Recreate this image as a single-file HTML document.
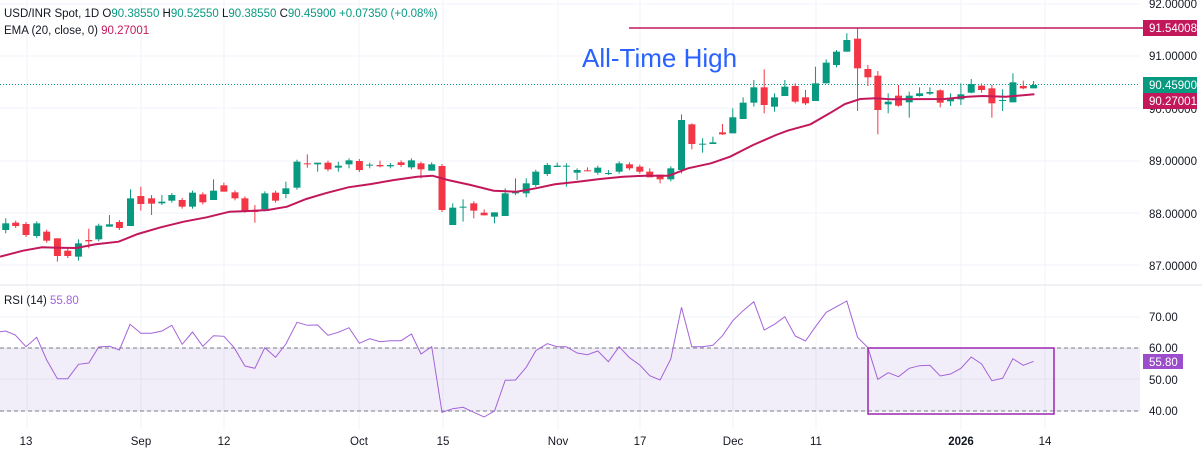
<!DOCTYPE html>
<html><head><meta charset="utf-8"><style>
html,body{margin:0;padding:0;background:#fff;}
svg{display:block;font-family:"Liberation Sans",sans-serif;}
</style></head><body>
<svg id="s" width="1202" height="452" xmlns="http://www.w3.org/2000/svg">
<rect width="1202" height="452" fill="#fff"/>
<g id="grid" stroke="#f0f3fa" stroke-width="1"></g>
<rect x="0" y="348" width="1140" height="63" fill="#7e57c2" fill-opacity="0.1"/>
<line x1="0" y1="348" x2="1140" y2="348" stroke="#787b86" stroke-dasharray="4,3"/>
<line x1="0" y1="411" x2="1140" y2="411" stroke="#787b86" stroke-dasharray="4,3"/>
<line x1="0" y1="285" x2="1202" y2="285" stroke="#e0e3eb"/>
<line x1="0" y1="84.5" x2="1140" y2="84.5" stroke="#089981" stroke-dasharray="1,2"/>
<g id="candles"></g>
<polyline id="ema" fill="none" stroke="#c2185b" stroke-width="2"/>
<line x1="629" y1="28" x2="1143" y2="28" stroke="#c2185b" stroke-width="1.5"/>
<polyline id="rsi" fill="none" stroke="#a463d8" stroke-width="1"/>
<rect x="868" y="348" width="186" height="66" fill="none" stroke="#9c27b0" stroke-width="1.5"/>
<text x="582" y="67" font-size="26" fill="#2962ff">All-Time High</text>
<g font-size="11.5" fill="#131722">
<text x="4" y="17">USD/INR Spot, 1D  O<tspan fill="#089981">90.38550</tspan> H<tspan fill="#089981">90.52550</tspan> L<tspan fill="#089981">90.38550</tspan> C<tspan fill="#089981">90.45900</tspan><tspan fill="#089981"> +0.07350 (+0.08%)</tspan></text>
<text x="4" y="34">EMA (20, close, 0) <tspan fill="#c2185b">90.27001</tspan></text>
<text x="4" y="304">RSI (14) <tspan fill="#a463d8">55.80</tspan></text>
</g>
<g font-size="11.5" fill="#131722">
<text x="1149" y="8">92.00000</text>
<text x="1149" y="60">91.00000</text>
<text x="1149" y="113">90.00000</text>
<text x="1149" y="165">89.00000</text>
<text x="1149" y="218">88.00000</text>
<text x="1149" y="270">87.00000</text>
<text x="1149" y="321">70.00</text>
<text x="1149" y="352">60.00</text>
<text x="1149" y="384">50.00</text>
<text x="1149" y="415">40.00</text>
</g>
<rect x="1143" y="20" width="54" height="16" fill="#c2185b"/>
<text x="1149" y="32" font-size="11.5" fill="#fff">91.54008</text>
<rect x="1143" y="77" width="54" height="16" fill="#089981"/>
<text x="1149" y="89" font-size="11.5" fill="#fff">90.45900</text>
<rect x="1143" y="93" width="54" height="16" fill="#c2185b"/>
<text x="1149" y="105" font-size="11.5" fill="#fff">90.27001</text>
<rect x="1143" y="354" width="40" height="15" fill="#9c4dcc"/>
<text x="1149" y="366" font-size="11.5" fill="#fff">55.80</text>
<g font-size="11.5" fill="#131722" text-anchor="middle">
<text x="26" y="445">13</text><text x="141" y="445">Sep</text><text x="224" y="445">12</text>
<text x="359" y="445">Oct</text><text x="443" y="445">15</text><text x="558" y="445">Nov</text>
<text x="640" y="445">17</text><text x="733" y="445">Dec</text><text x="816" y="445">11</text>
<text x="961" y="445" font-weight="bold">2026</text><text x="1045" y="445">14</text>
</g>
</svg>
<script>
var K=2.613;
var ns="http://www.w3.org/2000/svg";
function el(t,a,p){var e=document.createElementNS(ns,t);for(var k in a)e.setAttribute(k,a[k]);p.appendChild(e);return e;}
var g=document.getElementById('grid');
[27,141,224,359,443,558,640,733,816,961,1045].forEach(function(x){el('line',{x1:x,y1:0,x2:x,y2:430},g);});
[4,56,108,161,213,265,317,348,379,411].forEach(function(y){el('line',{x1:0,y1:y,x2:1140,y2:y},g);});
var C1=[[15,'g',670,690,655,700],[41,'r',668,678],[68,'r',672,705],[96,'g',670,708],[122,'r',695,722],[150,'r',715,768,715,785],[177,'r',752,768],[205,'g',730,770,718,782],[232,'r',720,724,686,745],[258,'g',677,718],[286,'g',673,680,645,680],[312,'r',666,684],[341,'g',595,678,568,678],[368,'r',588,612,560,632],[396,'r',595,611,585,645],[423,'g',605,610,585,615],[449,'g',585,602],[476,'r',600,620],[503,'g',578,620],[530,'r',583,607],[558,'g',572,600,538,600],[585,'r',556,575,548,575],[614,'r',577,595],[640,'r',595,632],[666,'r',632,636,615,668],[692,'g',580,628],[720,'r',578,602],[747,'g',565,582,545,595],[776,'g',485,563],[803,'r',490,493,463,503],[830,'g',488,493,488,515],[857,'r',488,508],[884,'g',497,503,485,515],[912,'g',481,493,475,505],[939,'r',483,510],[966,'g',494,497,488,505],[993,'r',495,499,482,502],[1020,'g',495,499],[1048,'r',487,495],[1075,'g',481,502],[1100,'r',490,508,485,535],[1128,'g',493,512,487,512],[1155,'r',498,630],[1183,'g',623,675,610,675],[1210,'g',620,623,598,665],[1238,'r',610,632,604,655],[1265,'r',638,646,628,646],[1292,'g',637,650,637,670],[1320,'g',580,648,565,648],[1347,'g',577,580,535,585],[1375,'g',550,580,535,592],[1400,'g',515,555],[1430,'g',495,522],[1456,'g',497,501,488,501],[1480,'g',497,500,490,560],[1508,'g',510,518,505,540],[1535,'r',511,514,502,514],[1562,'g',503,518]];
var C2=[[22,'g',519,522,510,525],[50,'g',490,515],[77,'r',493,505],[104,'r',500,515],[130,'r',515,532,505,532],[157,'r',524,538,524,550],[185,'g',505,538],[213,'g',360,510,343,520],[240,'r',373,432,370,448],[268,'g',431,434,415,458],[295,'g',427,432,410,432],[320,'r',397,403,372,405],[347,'g',352,400,325,400],[374,'g',308,357,292,357],[402,'g',262,308,240,320],[429,'r',262,315,208,340],[456,'g',292,320,280,335],[483,'g',260,288,240,288],[510,'r',258,305,250,310],[537,'r',292,310,270,315],[563,'g',250,303,200,303],[591,'g',188,250,178,250],[618,'g',155,195,150,202],[645,'g',120,155,100,155],[673,'r',116,205,85,333],[700,'r',207,232,195,258],[726,'r',227,330,213,403],[753,'g',305,313,280,340],[780,'r',287,317,255,320],[808,'g',287,307,275,353],[835,'g',280,288,262,290],[862,'g',276,281,262,285],[889,'r',271,308,268,322],[916,'g',297,304,280,318],[943,'g',283,298,250,315],[970,'g',252,278,237,280],[997,'r',257,270,250,278],[1024,'r',265,310,255,353],[1052,'g',300,303,268,333],[1079,'g',247,307,220,307],[1106,'r',258,265,242,268],[1133,'g',255,265,243,265]];
var cg=document.getElementById('candles');
function draw(arr,off){arr.forEach(function(c){var x=off+c[0]/K;var col=c[1]=='g'?'#089981':'#f23645';
var t=c[2]/3,b=c[3]/3;var wt=(c[4]!==undefined?c[4]:c[2]-6)/3,wb=(c[5]!==undefined?c[5]:c[3]+6)/3;
el('line',{x1:x,y1:wt,x2:x,y2:wb,stroke:col,'stroke-width':1},cg);
el('rect',{x:x-3.5,y:t,width:7,height:Math.max(1,b-t),fill:col},cg);});}
draw(C1,0);draw(C2,600);
function pts(a,off,oy){return a.map(function(p){return (off+p[0]/K).toFixed(1)+','+(oy+p[1]/3).toFixed(1);}).join(' ');}
var E1=[[0,770],[60,752],[110,742],[150,743],[200,744],[250,733],[310,725],[360,702],[420,682],[480,665],[540,652],[600,635],[650,633],[700,630],[750,620],[800,597],[850,580],[910,562],[970,552],[1030,540],[1090,530],[1130,527],[1170,540],[1230,555],[1290,572],[1350,575],[1400,565],[1450,553],[1510,545],[1568,537]];
var E2=[[60,530],[120,527],[180,527],[230,505],[290,490],[340,470],[400,435],[460,405],[490,392],[550,373],[600,340],[640,312],[680,297],[720,295],[760,298],[900,297],[960,290],[1000,288],[1060,290],[1135,283]];
document.getElementById('ema').setAttribute('points',pts(E1,0,0)+' '+pts(E2,600,0));
var R1=[[0,155],[15,153],[40,165],[68,200],[96,172],[122,240],[150,296],[177,296],[205,253],[232,249],[258,201],[286,199],[312,210],[340,133],[368,160],[396,160],[423,153],[449,136],[476,193],[503,156],[530,199],[558,167],[585,169],[612,203],[640,258],[666,265],[692,203],[720,232],[747,192],[776,127],[803,136],[830,135],[857,166],[884,157],[912,143],[939,190],[966,176],[993,185],[1020,182],[1048,182],[1075,162],[1100,222],[1128,200],[1155,397],[1183,386],[1210,382],[1238,397],[1265,411],[1292,393],[1320,301],[1347,300],[1375,262],[1400,212],[1430,191],[1456,200],[1480,200],[1508,219],[1535,224],[1562,213]];
var R2=[[22,245],[50,200],[77,233],[104,255],[130,287],[157,300],[185,237],[213,82],[240,200],[268,200],[295,196],[320,167],[347,122],[374,92],[402,65],[429,150],[456,133],[483,110],[510,168],[537,183],[563,140],[591,97],[618,80],[645,63],[673,172],[700,203],[726,298],[753,278],[780,290],[808,265],[835,257],[862,256],[889,288],[916,282],[943,265],[970,231],[997,252],[1024,302],[1052,295],[1079,236],[1106,256],[1133,244]];
document.getElementById('rsi').setAttribute('points',pts(R1,0,280)+' '+pts(R2,600,280));
</script>
</body></html>
